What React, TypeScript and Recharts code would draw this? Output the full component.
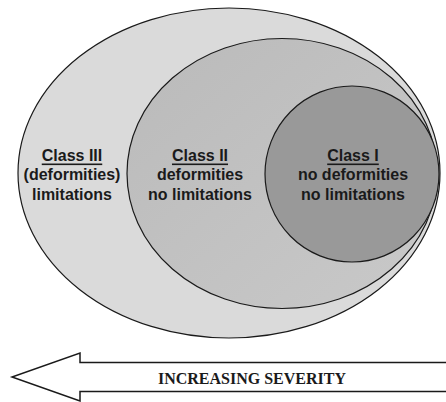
import React from "react";
import { ComposedChart, Scatter, XAxis, YAxis } from "recharts";

// diagram space is 446 x 402 units, y grows downward
const classNames = ["Class III", "Class II", "Class I"];
const line1 = ["(deformities)", "deformities", "no deformities"];
const line2 = ["limitations", "no limitations", "no limitations"];
const ellipseX = [229, 282, 352];
const ellipseY = [173, 173.5, 174];
const radiusX = [211, 155, 87];
const radiusY = [165, 135, 88];
const labelX = [72, 200, 353];
const labelY = [155, 155, 155];
const FILLS = ["#dadada", "url(#midGrad)", "#999999"];

const arrowText = "INCREASING SEVERITY";
const arrowTip = { x: 12, y: 377 };
const arrowHeadX = 80;
const arrowHalfHead = 24;
const arrowHalfShaft = 14.5;
const arrowEndX = 450;

const ellipses = classNames.map((name, i) => ({
  name,
  x: ellipseX[i],
  y: ellipseY[i],
  rx: radiusX[i],
  ry: radiusY[i],
  fill: FILLS[i],
}));

const labels = classNames.map((name, i) => ({
  name,
  x: labelX[i],
  y: labelY[i],
  l1: line1[i],
  l2: line2[i],
}));

const arrow = [{ x: arrowTip.x, y: arrowTip.y, text: arrowText }];

function EllipseShape(props: any) {
  const { cx, cy, payload } = props;
  return (
    <ellipse
      cx={cx}
      cy={cy}
      rx={payload.rx}
      ry={payload.ry}
      fill={payload.fill}
      stroke="#1a1a1a"
      strokeWidth={1.2}
    />
  );
}

function LabelShape(props: any) {
  const { cx, cy, payload } = props;
  const style = { fontFamily: "'Liberation Sans', Arial, sans-serif", fontWeight: 700, fontSize: 16 };
  return (
    <g fill="#1a1a1a" style={style}>
      <text x={cx} y={cy} textAnchor="middle" dominantBaseline="central" textDecoration="underline">
        {payload.name}
      </text>
      <text x={cx} y={cy + 19.5} textAnchor="middle" dominantBaseline="central">
        {payload.l1}
      </text>
      <text x={cx} y={cy + 39} textAnchor="middle" dominantBaseline="central">
        {payload.l2}
      </text>
    </g>
  );
}

function ArrowShape(props: any) {
  const { cx, cy, payload } = props;
  const hx = cx + (arrowHeadX - arrowTip.x);
  const ex = cx + (arrowEndX - arrowTip.x);
  const pts = [
    [ex, cy - arrowHalfShaft],
    [hx, cy - arrowHalfShaft],
    [hx, cy - arrowHalfHead],
    [cx, cy],
    [hx, cy + arrowHalfHead],
    [hx, cy + arrowHalfShaft],
    [ex, cy + arrowHalfShaft],
  ]
    .map((p) => p.join(","))
    .join(" ");
  return (
    <g>
      <polyline points={pts} fill="#fff" stroke="#1a1a1a" strokeWidth={1.5} />
      <text
        x={252}
        y={cy + 1}
        textAnchor="middle"
        dominantBaseline="central"
        fill="#1a1a1a"
        style={{ fontFamily: "'Liberation Serif', 'Times New Roman', serif", fontWeight: 700, fontSize: 16 }}
      >
        {payload.text}
      </text>
    </g>
  );
}

export default function App() {
  return (
    <div style={{ position: "fixed", left: 0, top: 0, background: "#fff" }}>
      <ComposedChart width={446} height={402} margin={{ top: 0, right: 0, bottom: 0, left: 0 }}>
        <defs>
          <linearGradient id="midGrad" x1="0" y1="0" x2="1" y2="1">
            <stop offset="0%" stopColor="#bababa" />
            <stop offset="100%" stopColor="#c9c9c9" />
          </linearGradient>
        </defs>
        <XAxis type="number" dataKey="x" domain={[0, 446]} hide allowDataOverflow />
        <YAxis type="number" dataKey="y" domain={[0, 402]} reversed hide allowDataOverflow />
        <Scatter data={ellipses} shape={<EllipseShape />} isAnimationActive={false} />
        <Scatter data={labels} shape={<LabelShape />} isAnimationActive={false} />
        <Scatter data={arrow} shape={<ArrowShape />} isAnimationActive={false} />
      </ComposedChart>
    </div>
  );
}
